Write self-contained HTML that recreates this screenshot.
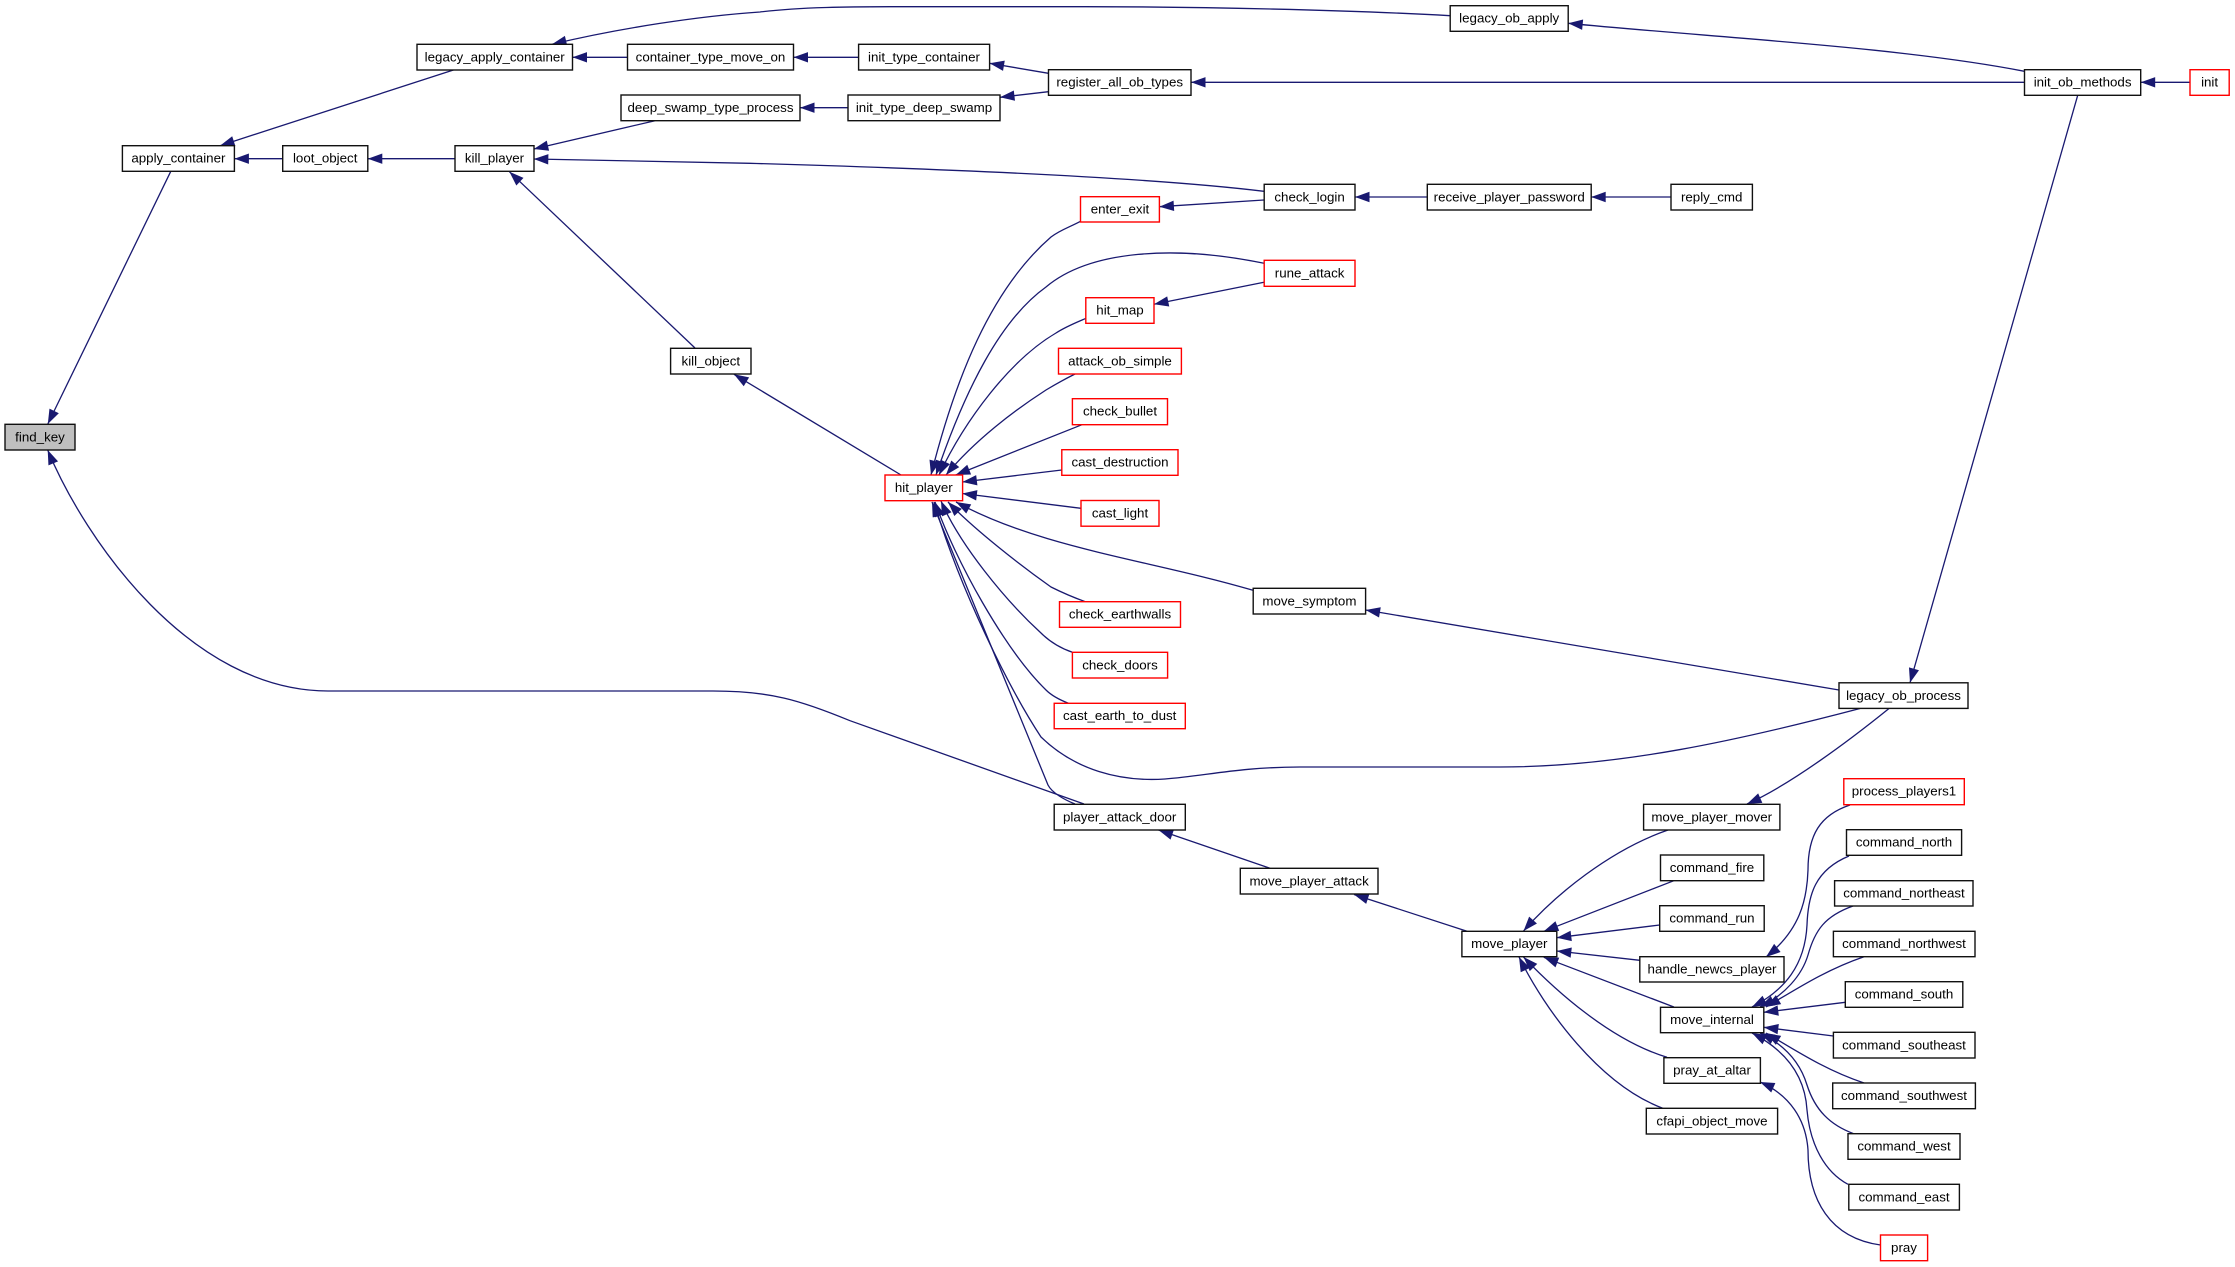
<!DOCTYPE html>
<html><head><meta charset="utf-8"><title>find_key caller graph</title>
<style>
html,body{margin:0;padding:0;background:#fff}
svg{display:block}
.e path{fill:none;stroke:#191970;stroke-width:1.3;marker-start:url(#a)}
rect{fill:#fff;stroke:#111;stroke-width:1.4}
rect.r{stroke:#f00}
rect.g{fill:#bfbfbf}
text{font-family:"Liberation Sans",sans-serif;font-size:13.33px;text-anchor:middle;fill:#000}
</style></head><body>
<svg xmlns="http://www.w3.org/2000/svg" width="2235" height="1267" viewBox="0 0 2235 1267">
<defs><marker id="a" markerUnits="userSpaceOnUse" markerWidth="16" markerHeight="12" refX="0" refY="5.5" orient="auto" overflow="visible"><path d="M0 5.5L14.5 0.3L14.5 10.7Z" fill="#191970"/></marker></defs>
<rect width="2235" height="1267" style="fill:#fff;stroke:none"/>
<g class="e">
<path d="M47.8 424L170.8 171.3"/>
<path d="M220 145.7L453.4 70"/>
<path d="M552 44.3C620 28 700 16 760 12C800 7 850 6.7 900 6.7L1085 6.7C1200 6.7 1350 10 1450 15.7"/>
<path d="M572.5 57.3L627.5 57.3"/>
<path d="M793.5 57.3L858.6 57.3"/>
<path d="M989.6 63.3L1048.5 73.3"/>
<path d="M1000 97.3L1048.5 91.7"/>
<path d="M800 107.7L848 107.7"/>
<path d="M1191 82.3L2024.5 82.3"/>
<path d="M2140.7 82.3L2190 82.3"/>
<path d="M1568.2 23.3C1720 38 1900 47 2024.5 71.3"/>
<path d="M1910 682.8L2077.6 95.7"/>
<path d="M234.4 158.7L282.7 158.7"/>
<path d="M367.8 158.7L455 158.7"/>
<path d="M533.8 149L655 120.7"/>
<path d="M533.8 159L750 163.3C880 167 1130 175 1264 191.3"/>
<path d="M509.4 171.7L695 348"/>
<path d="M734 374.3L901 475"/>
<path d="M47.7 450C85 540 190 691 328 691L713 691C770 691 800 700 850 720.7L1084 804"/>
<path d="M1159.4 206.7L1264 200"/>
<path d="M1355 197L1427.3 197"/>
<path d="M1591.2 197L1671 197"/>
<path d="M1154 304.3L1264 282.3"/>
<path d="M931 475C955 380 990 290 1051 237C1060 230 1070 227 1080.5 221.3"/>
<path d="M936 475C965 390 1000 320 1046 287C1090 250 1175 245 1264 263.3"/>
<path d="M939 475C965 420 1010 360 1056 333C1065 327 1075 323 1086 318.3"/>
<path d="M946 475C975 440 1015 410 1046 390C1056 384 1065 379 1075 374"/>
<path d="M955.7 475L1082 424.7"/>
<path d="M962.4 482L1061.8 470"/>
<path d="M962.4 493.5L1081 508.3"/>
<path d="M956 502C1040 548 1150 560 1253 590.3"/>
<path d="M948 502C975 530 1020 565 1051 587C1063 593 1075 598 1085.3 601.7"/>
<path d="M941 501C960 545 1005 600 1041 633C1050 642 1060 648 1072.4 652.3"/>
<path d="M935 502C955 560 1005 650 1046 690C1052 696 1060 700 1068.6 703.3"/>
<path d="M934 502C960 590 1010 690 1041 737C1075 770 1120 782 1165 779C1205 776 1240 767 1300 767L1500 767C1620 767 1740 740 1860 708.5"/>
<path d="M932 502L1048 785C1052 793 1065 800 1075 804"/>
<path d="M1365.6 610L1839 690"/>
<path d="M1158.5 830L1270 868.3"/>
<path d="M1354 894.5L1467 931.3"/>
<path d="M1747 804C1790 785 1850 740 1889 708.5"/>
<path d="M1523.5 931C1555 895 1610 850 1668 830"/>
<path d="M1543.8 931.3L1673.9 880.7"/>
<path d="M1556.8 937.7L1659.7 925"/>
<path d="M1556.8 951L1639.8 960.3"/>
<path d="M1543.8 957.3L1673.9 1007"/>
<path d="M1523.5 957C1555 990 1610 1040 1667 1057.3"/>
<path d="M1519 957C1545 1010 1600 1085 1663 1108.3"/>
<path d="M1766 957C1800 930 1807 900 1808 870C1808 835 1820 815 1850 805"/>
<path d="M1752 1007C1785 990 1805 965 1807 925C1808 895 1815 870 1849 856"/>
<path d="M1760 1007C1785 995 1802 975 1808 955C1815 930 1825 916 1853 906"/>
<path d="M1766 1007C1795 990 1825 970 1864 956.7"/>
<path d="M1763.8 1012.3L1845.3 1002.3"/>
<path d="M1763.8 1027.3L1833.4 1036"/>
<path d="M1766 1033C1795 1050 1825 1070 1864 1083"/>
<path d="M1760 1033C1785 1045 1800 1062 1807 1085C1815 1110 1830 1125 1853.7 1133.7"/>
<path d="M1752 1033C1785 1050 1805 1075 1807 1110C1810 1145 1825 1172 1848 1184.3"/>
<path d="M1760 1082C1790 1095 1806 1120 1808 1150C1808 1200 1830 1238 1880.5 1245"/>
</g>
<rect class="g" x="5" y="424.3" width="70" height="25.7"/><text x="40" y="441.5">find_key</text>
<rect x="122.4" y="145.7" width="112" height="25.6"/><text x="178.4" y="162.7">apply_container</text>
<rect x="282.7" y="145.7" width="85.1" height="25.6"/><text x="325.2" y="162.7">loot_object</text>
<rect x="455" y="145.7" width="79" height="25.6"/><text x="494.5" y="162.7">kill_player</text>
<rect x="417" y="44.3" width="155.5" height="25.7"/><text x="494.7" y="61.5">legacy_apply_container</text>
<rect x="627.5" y="44.3" width="166" height="25.7"/><text x="710.5" y="61.5">container_type_move_on</text>
<rect x="858.6" y="44.3" width="131" height="25.7"/><text x="924" y="61.5">init_type_container</text>
<rect x="621" y="95" width="179" height="25.7"/><text x="710.5" y="112">deep_swamp_type_process</text>
<rect x="848" y="95" width="152" height="25.7"/><text x="924" y="112">init_type_deep_swamp</text>
<rect x="1048.5" y="69.7" width="142.5" height="25.6"/><text x="1119.7" y="86.7">register_all_ob_types</text>
<rect x="1450.2" y="5.7" width="118" height="25.6"/><text x="1509.2" y="22.7">legacy_ob_apply</text>
<rect x="2024.5" y="69.7" width="116.2" height="25.6"/><text x="2082.6" y="86.7">init_ob_methods</text>
<rect class="r" x="2190" y="69.7" width="39.2" height="25.6"/><text x="2209.6" y="86.7">init</text>
<rect x="1264.2" y="184.3" width="90.8" height="25.7"/><text x="1309.6" y="201.3">check_login</text>
<rect x="1427.3" y="184.3" width="163.9" height="25.7"/><text x="1509.2" y="201.3">receive_player_password</text>
<rect x="1671" y="184.3" width="81.4" height="25.7"/><text x="1711.7" y="201.3">reply_cmd</text>
<rect x="670.6" y="348.3" width="80.4" height="25.7"/><text x="710.8" y="365.5">kill_object</text>
<rect class="r" x="1080.5" y="196.7" width="78.9" height="25.3"/><text x="1120" y="213.5">enter_exit</text>
<rect class="r" x="1264.2" y="260.3" width="90.8" height="26"/><text x="1309.6" y="277.5">rune_attack</text>
<rect class="r" x="1085.8" y="297.7" width="68.2" height="25.6"/><text x="1120" y="314.7">hit_map</text>
<rect class="r" x="1058.5" y="348.3" width="122.9" height="25.7"/><text x="1120" y="365.5">attack_ob_simple</text>
<rect class="r" x="1072.4" y="398.7" width="95.1" height="26"/><text x="1120" y="415.7">check_bullet</text>
<rect class="r" x="1061.8" y="449.7" width="116.2" height="25.6"/><text x="1120" y="466.7">cast_destruction</text>
<rect class="r" x="885" y="475" width="77.6" height="25.7"/><text x="923.8" y="492">hit_player</text>
<rect class="r" x="1081" y="500.5" width="78" height="25.7"/><text x="1120" y="517.7">cast_light</text>
<rect class="r" x="1059.5" y="601.7" width="121" height="25.6"/><text x="1120" y="618.7">check_earthwalls</text>
<rect class="r" x="1072.4" y="652.3" width="95.2" height="25.7"/><text x="1120" y="669.5">check_doors</text>
<rect class="r" x="1054.2" y="703.3" width="131.1" height="25.4"/><text x="1119.7" y="720.2">cast_earth_to_dust</text>
<rect x="1253.2" y="588.3" width="112.4" height="25.7"/><text x="1309.4" y="605.5">move_symptom</text>
<rect x="1054.2" y="804.3" width="131.1" height="25.7"/><text x="1119.7" y="821.5">player_attack_door</text>
<rect x="1240.3" y="868.3" width="137.7" height="25.7"/><text x="1309.1" y="885.5">move_player_attack</text>
<rect x="1839" y="682.8" width="129" height="25.6"/><text x="1903.5" y="699.8">legacy_ob_process</text>
<rect class="r" x="1843.8" y="778.7" width="120.5" height="26"/><text x="1904" y="795.7">process_players1</text>
<rect x="1643.6" y="804.3" width="136.3" height="25.7"/><text x="1711.7" y="821.5">move_player_mover</text>
<rect x="1846.5" y="829.7" width="115.1" height="25.6"/><text x="1904" y="846.7">command_north</text>
<rect x="1660.5" y="855" width="103.3" height="25.7"/><text x="1712" y="872">command_fire</text>
<rect x="1834.6" y="880.7" width="138.4" height="25.3"/><text x="1904" y="897.5">command_northeast</text>
<rect x="1659.7" y="905.7" width="104.5" height="25.6"/><text x="1712" y="922.7">command_run</text>
<rect x="1833.4" y="931.3" width="141.6" height="25.4"/><text x="1904" y="948.2">command_northwest</text>
<rect x="1461.9" y="931.3" width="94.9" height="25.4"/><text x="1509.3" y="948.2">move_player</text>
<rect x="1639.8" y="956.7" width="144.2" height="25.3"/><text x="1712" y="973.5">handle_newcs_player</text>
<rect x="1845.3" y="981.7" width="117.5" height="25.6"/><text x="1904" y="998.7">command_south</text>
<rect x="1660.5" y="1007.3" width="103.3" height="25.4"/><text x="1712" y="1024.2">move_internal</text>
<rect x="1833.4" y="1032.3" width="141.6" height="25.7"/><text x="1904" y="1049.5">command_southeast</text>
<rect x="1663.9" y="1057.7" width="96.5" height="25.6"/><text x="1712" y="1074.7">pray_at_altar</text>
<rect x="1832.7" y="1083" width="142.7" height="25.7"/><text x="1904" y="1100">command_southwest</text>
<rect x="1646.3" y="1108.3" width="131.3" height="25.7"/><text x="1712" y="1125.5">cfapi_object_move</text>
<rect x="1848" y="1133.7" width="112" height="25.6"/><text x="1904" y="1150.7">command_west</text>
<rect x="1848.8" y="1184.3" width="110.6" height="25.7"/><text x="1904" y="1201.5">command_east</text>
<rect class="r" x="1880.5" y="1235" width="47.1" height="25.7"/><text x="1904" y="1252">pray</text>
</svg>
</body></html>
